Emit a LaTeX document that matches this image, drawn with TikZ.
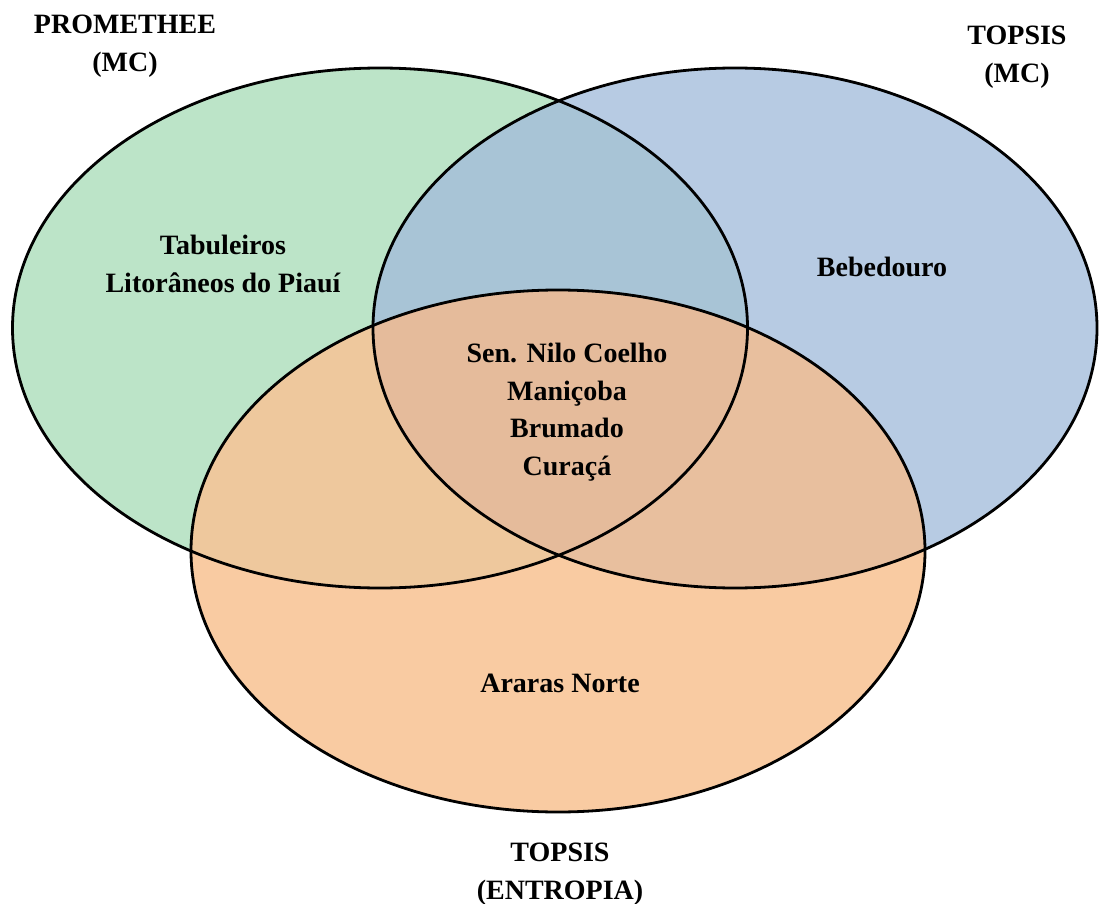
\documentclass[tikz,border=0pt]{standalone}
\usepackage{fontspec}
\setmainfont{Liberation Serif}
\definecolor{cg}{HTML}{BCE4C8}
\definecolor{cb}{HTML}{B7CBE3}
\definecolor{co}{HTML}{F9CBA2}
\definecolor{cgb}{HTML}{A8C4D6}
\definecolor{cgo}{HTML}{EEC89D}
\definecolor{cbo}{HTML}{E8BF9E}
\definecolor{cgbo}{HTML}{E5BB9B}
\begin{document}
\begin{tikzpicture}[x=1pt,y=-1pt,
  lbl/.style={font=\fontsize{28}{37.5}\selectfont\bfseries, align=center, inner sep=0pt},
  ring/.style={draw=black, line width=2.8pt}]
\useasboundingbox (0,0) rectangle (1100,904);
\def\G{(380,328) ellipse [x radius=367.5, y radius=260]}
\def\B{(735,328) ellipse [x radius=362, y radius=260]}
\def\O{(558,551) ellipse [x radius=367, y radius=261]}
\fill[cg] \G;
\fill[cb] \B;
\fill[co] \O;
\begin{scope}
  \clip \G;
  \fill[cgb] \B;
  \fill[cgo] \O;
\end{scope}
\begin{scope}
  \clip \B;
  \fill[cbo] \O;
\end{scope}
\begin{scope}
  \clip \G;
  \clip \B;
  \fill[cgbo] \O;
\end{scope}
\draw[ring] \G;
\draw[ring] \B;
\draw[ring] \O;
\node[lbl] (prom) at (125,46) {PROMETHEE\\(MC)};
\node[lbl] (topmc) at (1017,57) {TOPSIS\\(MC)};
\node[lbl] (topen) at (560,874) {TOPSIS\\(ENTROPIA)};
\node[lbl] (tab) at (223,264) {Tabuleiros\\Litorâneos do Piauí};
\node[lbl] (beb) at (882,267) {Bebedouro};
\node[lbl] (mid) at (567,412) {Sen. Nilo Coelho\\Maniçoba\\Brumado\\Curaçá};
\node[lbl] (ara) at (560,683) {Araras Norte};
\end{tikzpicture}
\end{document}
